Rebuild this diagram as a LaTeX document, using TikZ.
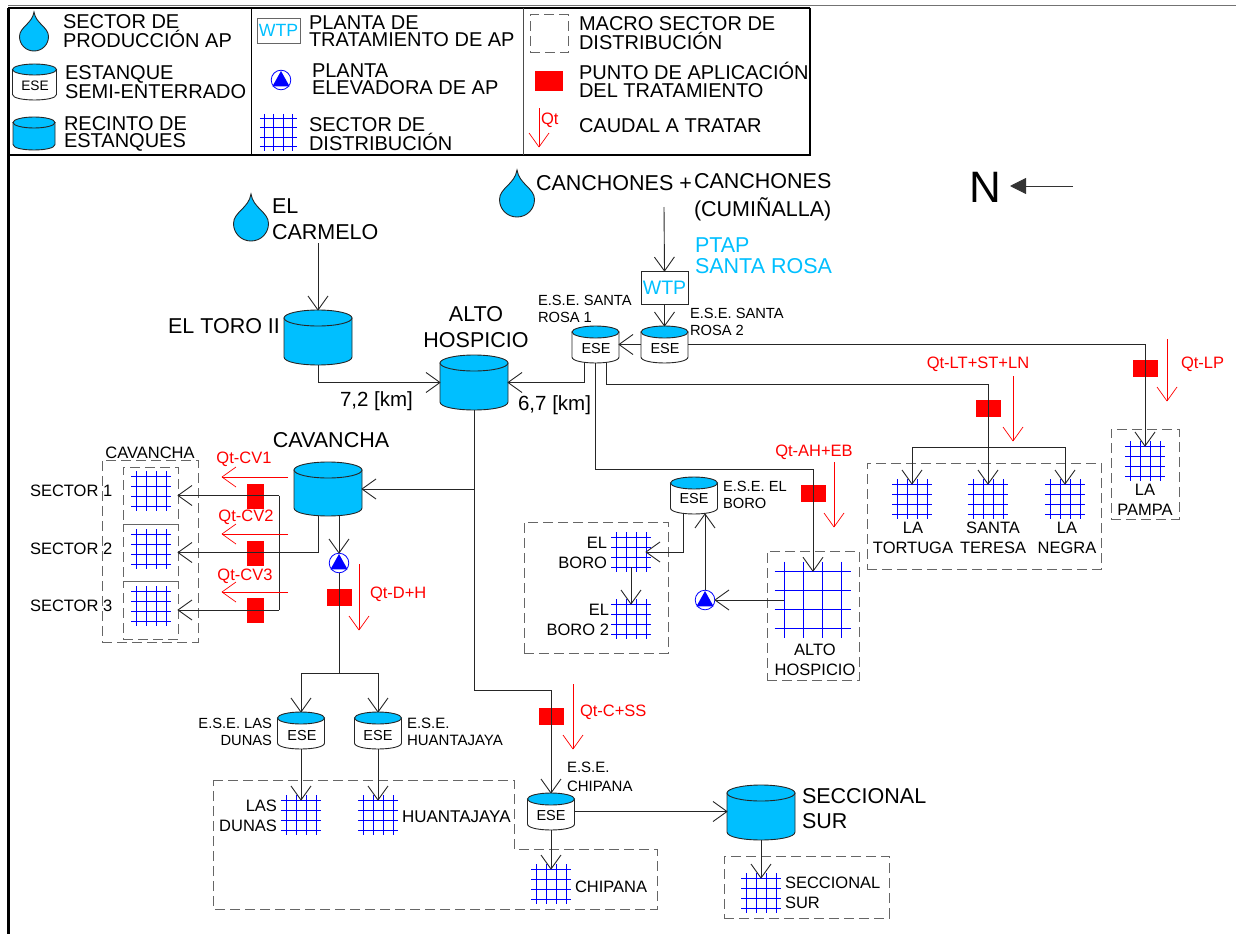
\documentclass[tikz,border=0pt]{standalone}
\usepackage{fontspec}
\setmainfont{Liberation Sans}
\usetikzlibrary{arrows.meta,fit,calc}
\definecolor{agua}{RGB}{0,191,255}
\pgfdeclarearrow{
  name = OpenVee,
  setup code = {
    \pgfarrowssettipend{0pt}
    \pgfarrowssetlineend{-.5\pgflinewidth}
    \pgfarrowssavethe\pgfarrowlength
    \pgfarrowssavethe\pgfarrowwidth
  },
  drawing code = {
    \pgfsetdash{}{0pt}
    \pgfsetroundjoin
    \pgfpathmoveto{\pgfqpoint{-\pgfarrowlength}{.5\pgfarrowwidth}}
    \pgfpathlineto{\pgfqpoint{0pt}{0pt}}
    \pgfpathlineto{\pgfqpoint{-\pgfarrowlength}{-.5\pgfarrowwidth}}
    \pgfusepathqstroke
  },
  parameters = {\the\pgfarrowlength,\the\pgfarrowwidth},
  defaults = {length=14pt,width=20pt}
}
\tikzset{
  every node/.style={inner sep=0pt,outer sep=0pt},
  fs/.style 2 args={font=\fontsize{#1}{#2}\selectfont},
  tl/.style={align=left,anchor=west},
  tr/.style={align=right,anchor=east},
  tc/.style={align=center,anchor=center},
  leg/.style={fs={20}{17.5},tl},
  big/.style={fs={21.5}{26}},
  mid/.style={fs={16.5}{20}},
  sml/.style={fs={14.7}{17.5}},
  redt/.style={fs={16.5}{20},text=red},
  conn/.style={draw=black!85,line width=.9pt},
  arr/.style={-{OpenVee[length=14pt,width=20pt]}},
  redarr/.style={draw=red,line width=.7pt,-{OpenVee[length=14pt,width=20pt]}},
  dashbox/.style={draw=black!60,line width=1pt,dash pattern=on 10pt off 5pt,inner sep=0pt,rectangle},
  redh/.style={fill=red,minimum width=25pt,minimum height=17pt},
  redv/.style={fill=red,minimum width=17pt,minimum height=25pt},
  gridline/.style={draw=blue,line width=1pt},
  tankline/.style={draw=black!85,line width=.9pt},
}
% name, cx, cy, w, h, ry, body colour
\newcommand{\tankshape}[7]{%
  \node[minimum width=#4pt,minimum height=#5pt] (#1) at (#2,#3) {};
  \begin{scope}[shift={(#2,#3)}]
    \pgfmathsetmacro{\hw}{#4/2}\pgfmathsetmacro{\hh}{#5/2}\pgfmathsetmacro{\ctl}{\hh+#6*0.33}\pgfmathsetmacro{\by}{\hh-#6}
    \draw[tankline,fill=#7] (-\hw,-\by) -- (-\hw,\by) .. controls (-\hw,\ctl) and (\hw,\ctl) .. (\hw,\by) -- (\hw,-\by) -- cycle;
    \draw[tankline,fill=agua] (0,-\by) ellipse [x radius=\hw pt,y radius=#6pt];
  \end{scope}}
% name, cx, top, w, h
\newcommand{\dropshape}[5]{%
  \pgfmathsetmacro{\cyy}{#3+#5/2}
  \node[minimum width=#4pt,minimum height=#5pt] (#1) at (#2,\cyy) {};
  \begin{scope}[shift={(#2,#3)}]
    \pgfmathsetmacro{\rr}{#4/2}\pgfmathsetmacro{\cc}{#5-\rr}
    \draw[tankline,fill=agua] (0,0)
      .. controls ({.12*\rr},{.3*#5}) and (\rr,{\cc-.65*\rr}) .. (\rr,\cc)
      .. controls (\rr,{\cc+.56*\rr}) and ({.56*\rr},#5) .. (0,#5)
      .. controls ({-.56*\rr},#5) and (-\rr,{\cc+.56*\rr}) .. (-\rr,\cc)
      .. controls (-\rr,{\cc-.65*\rr}) and ({-.12*\rr},{.3*#5}) .. (0,0) -- cycle;
  \end{scope}}
% name, cx, cy, spacing
\newcommand{\gridshape}[4]{%
  \pgfmathsetmacro{\gs}{3*#4}
  \node[minimum width=\gs pt,minimum height=\gs pt] (#1) at (#2,#3) {};
  \begin{scope}[shift={(#2,#3)}]
    \pgfmathsetmacro{\ge}{2*#4}
    \foreach \i in {-1.5,-.5,.5,1.5}{
      \draw[gridline] ({\i*#4},-\ge) -- ({\i*#4},\ge);
      \draw[gridline] (-\ge,{\i*#4}) -- (\ge,{\i*#4});
    }
  \end{scope}}
% name, cx, cy
\newcommand{\pumpshape}[3]{%
  \node[minimum size=20pt] (#1) at (#2,#3) {};
  \begin{scope}[shift={(#2,#3)}]
    \draw[draw=blue,line width=.8pt,fill=white] (0,0) circle [radius=9.8pt];
    \fill[blue] (0,-9) -- (8.6,6.4) -- (-8.6,6.4) -- cycle;
  \end{scope}}
\newcommand{\dbox}[5]{%
  \path (#2,#3) coordinate (#1a) (#4,#5) coordinate (#1b);
  \node[dashbox,fit=(#1a)(#1b)] (#1) {};}
\newcommand{\redflow}[5]{%
  \coordinate (#1s) at (#2,#3);
  \coordinate (#1e) at (#4,#5);
  \draw[redarr] (#1s) -- (#1e);}
\begin{document}
\begin{tikzpicture}[x=1pt,y=-1pt]
\useasboundingbox (0,0) rectangle (1236,934);
% page frame and legend frame
\draw[draw=black!55,line width=.8pt] (8,5.5) -- (1236,5.5);
\draw[line width=2.6pt] (8.5,8) -- (8.5,934);
\draw[line width=2pt] (8,8) -- (810,8);
\draw[line width=1.8pt] (810,8) -- (810,155) -- (8,155);
\draw[line width=1pt] (251,8) -- (251,155);
\draw[draw=black!70,line width=1.3pt] (523.5,8) -- (523.5,155);
% legend
\dropshape{lgdrop}{34}{12}{29}{39}
\node[leg] (lg1) at (63,31) {SECTOR DE\\PRODUCCIÓN AP};
\tankshape{lgese}{34.5}{82}{44}{36}{5.5}{white}
\node[fs={13.7}{14}] (lgesetxt) at (35,86) {ESE};
\node[leg] (lg2) at (65,82) {ESTANQUE\\SEMI-ENTERRADO};
\tankshape{lgrec}{34}{133.5}{42}{33}{5.5}{agua}
\node[leg] (lg3) at (64,134) {RECINTO DE\\ESTANQUES};
\node[draw=black!60,line width=.8pt,minimum width=43pt,minimum height=25pt,fs={17.7}{18},text=agua] (lgwtp) at (278.5,30.5) {WTP};
\node[leg] (lg4) at (309,31) {PLANTA DE\\TRATAMIENTO DE AP};
\pumpshape{lgpump}{281}{80}
\node[leg] (lg5) at (312,79) {PLANTA\\ELEVADORA DE AP};
\gridshape{lggrid}{278.5}{132.5}{9.3}
\node[leg] (lg6) at (309,134) {SECTOR DE\\DISTRIBUCIÓN};
\dbox{lgdash}{530}{15}{568}{53}
\node[leg] (lg7) at (579,33) {MACRO SECTOR DE\\DISTRIBUCIÓN};
\node[fill=red,minimum width=28pt,minimum height=20pt] (lgred) at (549,81) {};
\node[leg] (lg8) at (579,80) {PUNTO DE APLICACIÓN\\DEL TRATAMIENTO};
\redflow{lgq}{539}{108}{539}{147}
\node[redt,anchor=west] (lgqt) at (541,120) {Qt};
\node[leg] (lg9) at (579,126) {CAUDAL A TRATAR};
% north
\node[fs={44}{44}] (north) at (985,187) {N};
\coordinate (nsA) at (1073,186);
\coordinate (nsB) at (1010,186);
\draw[line width=.8pt,draw=black!80,-{Triangle[length=16pt,width=16pt]}] (nsA) -- (nsB);
% sources and reservoirs
\dropshape{dcarmelo}{251}{194}{35}{47}
\node[big,tl] (carmelo) at (272,219) {EL\\CARMELO};
\dropshape{dcanch}{517}{170}{35}{47}
\node[big,tl] (canch1) at (536,183) {CANCHONES +};
\node[big,tl,fs={21.5}{28}] (canch2) at (694,197) {CANCHONES\\(CUMIÑALLA)};
\coordinate (fromcanch) at (664,207);
\coordinate (fromcarm) at (318,243);
\node[big,tl,fs={21.5}{21},text=agua] (ptap) at (695,256) {PTAP\\SANTA ROSA};
\node[draw=black!85,line width=.9pt,minimum width=47pt,minimum height=33pt,fs={19.5}{20},text=agua] (wtp) at (664.5,287.5) {WTP};
\tankshape{toro}{318}{337.5}{68}{55}{8}{agua}
\node[big,tl] (torolab) at (168,326) {EL TORO II};
\tankshape{alto}{474}{382.5}{68}{55}{8}{agua}
\node[big,tc] (altolab) at (476,327) {ALTO\\HOSPICIO};
\tankshape{cav}{328}{489}{68}{54}{8}{agua}
\node[big,tc] (cavlab) at (331,440) {CAVANCHA};
\tankshape{secc}{761}{812.5}{68}{55}{8}{agua}
\node[big,tl,fs={21.5}{25}] (secclab) at (802,809) {SECCIONAL\\SUR};
% ESE tanks
\tankshape{sr1}{595.5}{344.5}{47}{37}{6}{white}
\node[fs={14.5}{15}] (sr1t) at (596,349) {ESE};
\tankshape{sr2}{664.5}{344.5}{47}{37}{6}{white}
\node[fs={14.5}{15}] (sr2t) at (665,349) {ESE};
\tankshape{boro}{694}{495.5}{47}{37}{6}{white}
\node[fs={14.5}{15}] (borot) at (694,499) {ESE};
\tankshape{dunas}{301}{730.5}{47}{37}{6}{white}
\node[fs={14.5}{15}] (dunast) at (302,735) {ESE};
\tankshape{huant}{378}{730.5}{47}{37}{6}{white}
\node[fs={14.5}{15}] (huantt) at (378,735) {ESE};
\tankshape{chip}{551}{811.5}{47}{37}{6}{white}
\node[fs={14.5}{15}] (chipt) at (551,815) {ESE};
\node[sml,tl] (l1) at (538,309) {E.S.E. SANTA\\ROSA 1};
\node[sml,tl] (l2) at (690,322) {E.S.E. SANTA\\ROSA 2};
\node[sml,tl] (l3) at (723,495) {E.S.E. EL\\BORO};
\node[sml,tr] (l4) at (272,732) {E.S.E. LAS\\DUNAS};
\node[sml,tl,fs={15}{17.5}] (l5) at (407,732) {E.S.E.\\HUANTAJAYA};
\node[sml,tl,fs={15}{18.5}] (l6) at (567,777) {E.S.E.\\CHIPANA};
\node[fs={20.5}{21},anchor=west] (km1) at (340,401) {7,2 [km]};
\node[fs={20.5}{21},anchor=east] (km2) at (591,405) {6,7 [km]};
% dashed boxes
\dbox{outcav}{102}{460}{198}{642}
\dbox{cell1}{123}{467}{178}{524}
\dbox{cell2}{123}{524}{178}{581}
\dbox{cell3}{123}{581}{178}{639}
\dbox{boxboro}{524}{522}{668}{653}
\dbox{boxah}{767}{551}{859}{680}
\dbox{boxtort}{867}{463}{1101}{569}
\dbox{boxpampa}{1111}{429}{1179}{519}
\dbox{boxsecc}{724}{856}{889}{918}
\draw[dashbox] (213,780) -- (514,780) -- (514,849) -- (657,849) -- (657,909) -- (213,909) -- cycle;
% grids
\gridshape{g1}{151}{491}{10}
\gridshape{g2}{151}{549}{10}
\gridshape{g3}{151}{606}{10}
\gridshape{gboro}{631}{552}{10}
\gridshape{gboro2}{631}{619}{10}
\gridshape{gah}{813}{600}{19.2}
\gridshape{gtort}{912}{499}{10}
\gridshape{gstere}{988}{499}{10}
\gridshape{gnegra}{1065}{499}{10}
\gridshape{gpampa}{1145}{461}{10}
\gridshape{gdunas}{301}{815}{10}
\gridshape{ghuant}{378}{815}{10}
\gridshape{gchip}{551}{884}{10}
\gridshape{gsecc}{761}{893}{10}
\node[mid,tc] (tcav) at (150,453) {CAVANCHA};
\node[mid,tl] (ts1) at (30,491) {SECTOR 1};
\node[mid,tl] (ts2) at (30,549) {SECTOR 2};
\node[mid,tl] (ts3) at (30,606) {SECTOR 3};
\node[mid,tr] (tboro) at (607,553) {EL\\BORO};
\node[mid,tr] (tboro2) at (609,620) {EL\\BORO 2};
\node[mid,tc] (tah) at (815,660) {ALTO\\HOSPICIO};
\node[mid,tc] (ttort) at (913,538) {LA\\TORTUGA};
\node[mid,tc] (tster) at (993,538) {SANTA\\TERESA};
\node[mid,tc] (tneg) at (1067,538) {LA\\NEGRA};
\node[mid,tc] (tpam) at (1145,500) {LA\\PAMPA};
\node[mid,tr] (tdun) at (277,816) {LAS\\DUNAS};
\node[mid,tl,fs={17}{20}] (thua) at (402,817) {HUANTAJAYA};
\node[mid,tl] (tchi) at (575,887) {CHIPANA};
\node[mid,tl] (tsec) at (785,893) {SECCIONAL\\SUR};
% pumps and treatment points
\pumpshape{p1}{339}{563}
\pumpshape{p2}{705}{600}
\node[redv] (r1) at (255,496) {};
\node[redv] (r2) at (255,553) {};
\node[redv] (r3) at (255,610) {};
\node[redh] (r4) at (339,597) {};
\node[redh] (r5) at (813,493) {};
\node[redh] (r6) at (988,408) {};
\node[redh] (r7) at (1145,368) {};
\node[redh] (r8) at (551,716) {};
% connectors
\draw[conn,arr] (fromcarm) -- (toro.north);
\draw[conn,arr] (toro.south) |- (alto.west);
\draw[conn,arr] (fromcanch) -- (wtp.north);
\draw[conn,arr] (wtp.south) -- (sr2.north);
\draw[conn,arr] (sr2.west) -- (sr1.east);
\draw[conn,arr] ([xshift=-11pt]sr1.south) |- (alto.east);
\draw[conn,arr] (sr2.east) -| (gpampa.north);
\coordinate (jst) at (988,384);
\coordinate (jbr) at (988,447);
\coordinate (jah) at (813,469);
\draw[conn,arr] ([xshift=11pt]sr1.south) |- (jst) -- (gstere.north);
\draw[conn,arr] (jbr) -| (gtort.north);
\draw[conn,arr] (jbr) -| (gnegra.north);
\draw[conn,arr] (sr1.south) |- (jah) -- (gah.north);
\draw[conn,arr] (gah.west) -- (p2.east);
\draw[conn,arr] (p2.north) -- ([xshift=11pt]boro.south);
\draw[conn,arr] ([xshift=-11pt]boro.south) |- (gboro.east);
\draw[conn,arr] (gboro.south) -- (gboro2.north);
\coordinate (jc) at (551,690);
\coordinate (jcav) at (474,489);
\draw[conn,arr] (alto.south) |- (jc) -- (chip.north);
\draw[conn,arr] (jcav) -- (cav.east);
\draw[conn,arr] ([xshift=-10pt]cav.south) |- (cell2.east);
\coordinate (jb1) at (279,495.5);
\coordinate (jb3) at (279,610);
\draw[conn,arr] (jb1) -- (cell1.east);
\draw[conn,arr] (jb3) -- (cell3.east);
\draw[conn] (jb1) -- (jb3);
\draw[conn,arr] ([xshift=11pt]cav.south) -- (p1.north);
\coordinate (jd) at (339,673);
\draw[conn] (p1.south) -- (jd);
\draw[conn,arr] (jd) -| (dunas.north);
\draw[conn,arr] (jd) -| (huant.north);
\draw[conn,arr] (dunas.south) -- (gdunas.north);
\draw[conn,arr] (huant.south) -- (ghuant.north);
\draw[conn,arr] (chip.south) -- (gchip.north);
\draw[conn,arr] (chip.east) -- (secc.west |- chip.east);
\draw[conn,arr] (secc.south) -- (gsecc.north);
% flows
\redflow{q1}{288}{477}{222}{477}
\redflow{q2}{288}{534}{222}{534}
\redflow{q3}{288}{592}{222}{592}
\redflow{q4}{359}{564}{359}{630}
\redflow{q5}{834}{462}{834}{527}
\redflow{q6}{1013}{376}{1013}{441}
\redflow{q7}{1167}{339}{1167}{401}
\redflow{q8}{573}{684}{573}{749}
\node[redt,tc] (tq1) at (244,459) {Qt-CV1};
\node[redt,tc] (tq2) at (246,517) {Qt-CV2};
\node[redt,tc] (tq3) at (245,576) {Qt-CV3};
\node[redt,tl] (tq4) at (370,594) {Qt-D+H};
\node[redt,tc] (tq5) at (814,452) {Qt-AH+EB};
\node[redt,tc] (tq6) at (978,364) {Qt-LT+ST+LN};
\node[redt,tl] (tq7) at (1181,364) {Qt-LP};
\node[redt,tl] (tq8) at (580,712) {Qt-C+SS};
\end{tikzpicture}
\end{document}
